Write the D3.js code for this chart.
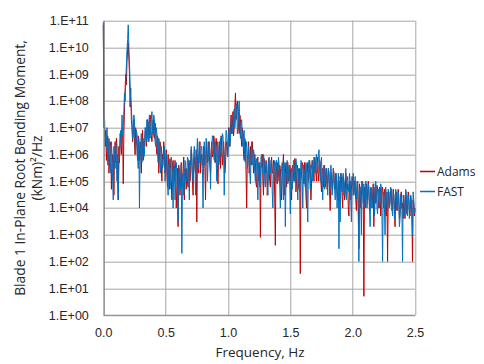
<!DOCTYPE html>
<html>
<head>
<meta charset="utf-8">
<script src="https://cdn.jsdelivr.net/npm/d3@7"></script>
<style>
  body { margin: 0; background: #fff; }
  svg { display: block; font-family: "Open Sans", "Liberation Sans", sans-serif; }
  .axis text { fill: #262626; font-size: 12.5px; }
  .axis path { stroke: #888; }
  .grid line { stroke: #a6a6a6; stroke-width: 1; }
</style>
</head>
<body>
<div id="chart"></div>
<script>
// PSD of blade 1 in-plane root bending moment, 0.005 Hz steps from 0 to 2.5 Hz
var freqStep = 0.005;

var fastPsd = [
  9e10, 1e7, 2e7, 3e6, 5e6, 2e6, 1e7, 4e5, 8e5, 4e6, 3e6, 6e5, 2e5, 3e6, 1e6, 1e5, 2e4, 2e6, 6e5, 3e5,
  3e6, 6e5, 1e5, 1e6, 2e4, 5e5, 1e6, 3e6, 8e6, 2e6, 3e7, 5e6, 1e7, 4e7, 2e8, 1e8, 6e8, 2e9, 8e9, 2e10,
  7e10, 1e10, 3e9, 4e8, 1e8, 5e7, 2e7, 4e6, 5e6, 3e7, 2e7, 3e6, 1e6, 8e6, 6e6, 1e6, 3e5, 4e6, 1e4, 1e6,
  2e6, 6e6, 5e5, 2e6, 4e6, 8e5, 1e6, 1e7, 8e6, 3e6, 2e7, 5e6, 3e6, 1.5e7, 3e7, 4e6, 8e6, 2e7, 4e7, 6e6,
  1e7, 3e7, 2e7, 3e6, 2e6, 1e7, 6e6, 1e6, 5e5, 4e6, 3e6, 6e5, 2e5, 2e6, 1e6, 3e5, 4e5, 1.5e6, 2e6, 1e5,
  2e5, 1e6, 8e5, 1e5, 3e4, 4e5, 6e5, 5e4, 1e5, 8e5, 5e5, 1e5, 1e4, 3e5, 4e5, 2e4, 6e4, 5e5, 2e5, 4e4,
  3e3, 2e5, 3e5, 8e4, 5e4, 4e5, 2e2, 1e5, 2e5, 3e4, 6e4, 6e5, 5e5, 1e5, 1e5, 8e5, 7e5, 2e5, 2e4, 6e5,
  4e5, 2e6, 1e6, 2e5, 1e5, 1e6, 2e6, 5e5, 3e4, 8e5, 1e6, 4e6, 3e5, 1e6, 3e6, 5e5, 6e5, 2e6, 2e6, 3e5,
  1e4, 1e6, 3e6, 4e5, 8e5, 4e6, 2e6, 1e5, 4e5, 2e6, 3e6, 8e5, 5e4, 1e6, 2e6, 5e6, 4e6, 1e6, 6e5, 3e6,
  3e6, 8e5, 1e5, 3e6, 2e6, 4e5, 5e5, 2e6, 4e6, 8e5, 1e6, 6e6, 5e6, 1e6, 3e4, 1e6, 2e6, 8e6, 6e6, 1e6,
  8e5, 5e6, 1e7, 2e6, 4e6, 1.5e7, 3e7, 6e6, 8e6, 3e7, 5e7, 1e7, 2e7, 5e7, 8e7, 6e6, 1e7, 4e7, 1e8, 1e7,
  4e6, 1.5e7, 2e7, 3e6, 2e6, 6e6, 8e6, 6e5, 5e5, 2e6, 3e6, 3e5, 4e5, 2e6, 1e6, 2e5, 8e4, 1e6, 3e6, 5e5,
  4e5, 1.5e6, 1e6, 2e5, 1e5, 5e5, 7e5, 1e5, 2e4, 4e5, 5e5, 6e4, 1e5, 8e5, 1e6, 3e5, 2e5, 1e6, 6e5, 1e5,
  6e4, 5e5, 4e5, 1e5, 3e4, 3e5, 8e5, 2e5, 2e5, 6e5, 5e5, 4e4, 1e4, 2e5, 3e5, 6e5, 1e5, 3e5, 6e5, 1e5,
  2e5, 8e5, 4e5, 6e4, 1e4, 2e5, 3e5, 5e5, 8e4, 2e4, 5e5, 2e5, 2e3, 1e5, 3e5, 6e5, 8e4, 2e5, 4e5, 1e5,
  6e3, 2e5, 3e5, 5e4, 1e5, 6e5, 5e5, 1e5, 2e5, 7e5, 4e5, 8e4, 2e4, 3e5, 2e5, 4e4, 1e5, 6e5, 5e5, 1e5,
  1e4, 4e5, 3e5, 1e5, 6e4, 5e5, 4e5, 2e4, 3e3, 3e5, 6e5, 2e5, 5e4, 4e5, 3e5, 6e5, 1e5, 2e5, 8e5, 3e5,
  2e5, 6e5, 1e6, 2e5, 3e5, 1e6, 1.5e6, 4e5, 1e5, 5e5, 8e5, 1e5, 2e4, 3e5, 4e5, 5e4, 8e4, 3e5, 3e5, 1e5,
  3e4, 3e5, 2e5, 5e4, 6e4, 4e5, 2e5, 3e4, 8e4, 3e5, 1.5e5, 6e4, 2e4, 2e5, 1.5e5, 1e4, 4e4, 2e5, 3e2, 1e5,
  3e3, 2e5, 1e5, 4e4, 1.5e5, 2e5, 3e4, 8e4, 1e5, 3e5, 2e4, 1e5, 1.5e5, 6e4, 4e4, 2e5, 1e5, 2e4, 3e3, 1e5,
  8e4, 2e5, 3e4, 6e4, 1.5e5, 4e4, 2e4, 1e5, 8e4, 5e3, 1e2, 5e4, 6e4, 2e4, 1e3, 1e5, 5e4, 1.5e4, 8e4, 3e4,
  1e4, 1e5, 6e4, 1e4, 2e4, 8e4, 5e4, 1e4, 2e3, 6e4, 5e4, 2e4, 1e4, 6e4, 8e4, 5e3, 2e4, 1e5, 4e4, 1e4,
  6e3, 4e4, 5e4, 1e4, 1.5e4, 8e4, 6e4, 5e3, 1e2, 3e4, 4e4, 1e4, 1e3, 6e4, 3e4, 1e4, 8e3, 5e4, 4e4, 1e4,
  1.5e4, 6e4, 5e4, 1e4, 5e3, 4e4, 3e4, 4e3, 1.5e4, 5e4, 4e4, 1e4, 8e3, 4e4, 2e4, 2e3, 4e3, 3e4, 3e4, 8e3,
  1e2, 3e4, 2e4, 5e3, 8e3, 5e4, 4e4, 6e3, 5e3, 3e4, 2e4, 4e3, 8e3, 3e4, 1.5e4, 6e3, 1e3, 4e4, 2e4, 6e3,
  8e3
];

var adamsPsd = [
  7e10, 3e7, 1e7, 2e6, 8e6, 6e5, 2e6, 5e6, 3e6, 2e5, 5e5, 3e6, 2e6, 5e4, 3e5, 1e6, 8e5, 3e4, 1e6, 3e6,
  5e5, 4e6, 2e6, 1e5, 2e4, 2e6, 5e5, 6e6, 4e6, 1e6, 8e6, 1e7, 8e4, 6e6, 5e7, 3e8, 1e9, 4e8, 3e9, 8e9,
  1.5e10, 4e9, 1e9, 6e7, 3e8, 2e7, 1e7, 3e6, 8e6, 2e7, 3e6, 1e6, 1e7, 4e6, 2e6, 6e5, 5e6, 2e6, 6e5, 3e6,
  1e6, 2e5, 3e6, 8e6, 6e5, 3e6, 2e6, 6e6, 1e7, 2e6, 5e6, 2e7, 1.5e7, 3e6, 6e6, 3e7, 2e7, 5e6, 3e6, 1e7,
  2e7, 5e6, 4e6, 1.5e7, 8e6, 2e6, 1e6, 5e6, 3e6, 2e5, 8e5, 3e6, 2e6, 4e5, 1e5, 1e6, 7e5, 3e6, 1e6, 2e5,
  5e5, 1.5e6, 2e5, 6e4, 1e6, 3e5, 5e4, 7e5, 3e5, 1e5, 2e4, 4e5, 6e5, 2e5, 1e5, 6e5, 3e5, 1e4, 4e4, 3e5,
  2e3, 4e5, 2e5, 3e4, 1e5, 5e5, 6e4, 1e5, 3e5, 8e5, 2e4, 3e5, 2e5, 5e4, 3e5, 1e5, 6e4, 6e5, 5e5, 1e5,
  2e5, 1.5e6, 6e5, 1e5, 3e4, 5e5, 8e5, 3e5, 2e5, 1.5e6, 3e3, 6e5, 1e6, 2e5, 1e6, 3e6, 2e5, 6e5, 1e6, 4e5,
  4e5, 2e6, 1e6, 3e5, 2e4, 1e6, 3e6, 5e5, 6e5, 3e6, 1e6, 4e5, 2e5, 1.5e6, 3e6, 8e5, 1e6, 5e6, 4e6, 5e5,
  5e5, 4e6, 2e6, 3e5, 8e4, 1e6, 3e6, 1e6, 3e5, 5e6, 2e6, 4e5, 8e5, 3e6, 1e6, 2e5, 4e5, 2e6, 3e6, 1e6,
  2e6, 1e7, 5e6, 2e6, 1e7, 3e7, 6e6, 1e7, 4e7, 5e6, 1e7, 6e7, 2e8, 2e7, 3e7, 1e8, 5e7, 1e7, 6e6, 3e7,
  2e7, 5e6, 2e6, 1e7, 5e6, 1e6, 6e5, 4e6, 3e6, 2e5, 1e4, 8e5, 1e6, 3e6, 2e5, 6e5, 2e6, 4e5, 6e5, 3e6,
  1e6, 2e5, 3e5, 1e6, 5e5, 8e4, 6e4, 6e5, 8e5, 1e5, 2e5, 5e5, 8e2, 3e5, 4e5, 1e6, 1e5, 3e4, 7e5, 2e5,
  2e5, 6e5, 5e5, 3e4, 1e5, 7e5, 3e5, 1e5, 6e4, 4e5, 8e5, 2e5, 2e5, 6e5, 4e5, 2e4, 4e2, 5e5, 3e5, 8e4,
  5e5, 2e5, 1e5, 4e5, 3e5, 6e4, 2e4, 3e5, 4e5, 1e6, 1e5, 3e4, 2e5, 5e5, 6e4, 3e5, 5e5, 1e5, 1e5, 4e5,
  3e5, 6e4, 2e4, 3e5, 4e5, 2e5, 1e5, 7e5, 6e5, 4e4, 1e5, 4e5, 3e5, 8e4, 5e4, 3e5, 3.5e1, 1e5, 2e5, 5e5,
  4e5, 1e5, 8e4, 5e5, 3e5, 3e4, 1e4, 2e5, 5e5, 1e5, 2e5, 6e5, 3e5, 2e4, 8e4, 4e5, 6e5, 2e5, 1e5, 8e5,
  6e5, 2e5, 1e5, 5e5, 8e5, 1e5, 2e5, 6e5, 5e5, 1e5, 4e4, 3e5, 3e5, 6e4, 2e5, 4e5, 6e4, 1e5, 3e5, 5e4,
  1e5, 3e5, 2e5, 4e4, 8e3, 1e5, 2e5, 6e4, 5e4, 3e5, 2e5, 5e4, 6e4, 2e5, 1e5, 3e4, 2e4, 1e5, 1.5e5, 4e4,
  5e4, 2e5, 1.5e5, 3e4, 1e4, 1.5e5, 1e5, 2e4, 3e4, 2e5, 1e5, 5e4, 8e4, 1e4, 5e3, 8e4, 1e5, 2e4, 5e4, 1.5e5,
  1e5, 3e4, 4e4, 1e5, 6e4, 2e4, 8e3, 6e4, 1e5, 2e4, 3e2, 8e4, 5e4, 1e4, 3e4, 1e5, 8e4, 2e4, 5e0, 6e4,
  4e4, 1e4, 8e4, 5e4, 2e4, 1e5, 6e4, 8e3, 1e4, 6e4, 5e4, 1e4, 3e4, 8e4, 2e3, 3e4, 6e4, 1.5e4, 2e4, 7e4,
  5e4, 2e4, 1e4, 6e4, 4e4, 5e3, 2e4, 5e4, 6e4, 1.5e4, 1e4, 5e4, 3e4, 6e3, 5e3, 4e4, 1e2, 2e4, 4e4, 1e4,
  2e4, 4e4, 5e4, 8e3, 1e4, 5e4, 3e4, 1e4, 2e3, 3e4, 4e4, 8e3, 1.5e4, 5e4, 3e4, 4e3, 6e3, 3e4, 4e4, 1e4,
  1.5e4, 4e3, 3e4, 1e4, 4e3, 3e4, 2e4, 6e3, 1e4, 4e4, 3e4, 8e3, 5e3, 3e4, 2e4, 6e3, 1e2, 2e4, 1.5e4, 5e3,
  1e4
];

var xTicks = [0, 0.5, 1.0, 1.5, 2.0, 2.5];
var xTickLabels = ["0.0", "0.5", "1.0", "1.5", "2.0", "2.5"];
var yTicks = [1e0, 1e1, 1e2, 1e3, 1e4, 1e5, 1e6, 1e7, 1e8, 1e9, 1e10, 1e11];
var yTickLabels = ["1.E+00", "1.E+01", "1.E+02", "1.E+03", "1.E+04", "1.E+05",
                   "1.E+06", "1.E+07", "1.E+08", "1.E+09", "1.E+10", "1.E+11"];

var seriesNames = ["Adams", "FAST"];
var seriesColors = ["#c00000", "#0070c0"];

(function () {
    "use strict";

    var W = 484, H = 364;
    var margin = { top: 20.7, right: 69, bottom: 49, left: 103.3 };
    var width = W - margin.left - margin.right;
    var height = H - margin.top - margin.bottom;

    var svg = d3.select("#chart").append("svg")
        .attr("width", W)
        .attr("height", H);

    var g = svg.append("g")
        .attr("transform", "translate(" + margin.left + "," + margin.top + ")");

    var x = d3.scaleLinear().domain([0, 2.5]).range([0, width]);
    var y = d3.scaleLog().domain([1, 1e11]).range([height, 0]);

    // Grid
    var grid = g.append("g").attr("class", "grid");
    grid.selectAll("line.h").data(yTicks).enter().append("line")
        .attr("class", "h")
        .attr("x1", 0).attr("x2", width)
        .attr("y1", function (d) { return Math.round(y(d)) + 0.5; })
        .attr("y2", function (d) { return Math.round(y(d)) + 0.5; });
    grid.selectAll("line.v").data(xTicks).enter().append("line")
        .attr("class", "v")
        .attr("y1", 0).attr("y2", height)
        .attr("x1", function (d) { return Math.round(x(d)) + 0.5; })
        .attr("x2", function (d) { return Math.round(x(d)) + 0.5; });

    // Series: Adams first, FAST drawn on top
    var series = [adamsPsd, fastPsd];
    var line = d3.line()
        .x(function (d, i) { return x(i * freqStep); })
        .y(function (d) { return y(d); });

    series.forEach(function (s, k) {
        g.append("path")
            .datum(s)
            .attr("fill", "none")
            .attr("stroke", seriesColors[k])
            .attr("stroke-width", 1)
            .attr("d", line);
    });

    // Axes
    g.append("g").attr("class", "axis")
        .attr("transform", "translate(0," + (Math.round(height) + 0.5) + ")")
        .call(d3.axisBottom(x).tickValues(xTicks).tickSize(0).tickPadding(13)
            .tickFormat(function (d, i) { return xTickLabels[i]; }));

    g.append("g").attr("class", "axis")
        .attr("transform", "translate(0.5,0)")
        .call(d3.axisLeft(y).tickValues(yTicks).tickSize(0).tickPadding(15)
            .tickFormat(function (d, i) { return yTickLabels[i]; }));

    // Axis titles
    svg.append("text")
        .attr("x", 260)
        .attr("y", 357)
        .attr("text-anchor", "middle")
        .attr("fill", "#262626")
        .attr("font-size", "13.5px")
        .text("Frequency, Hz");

    var yt = svg.append("text")
        .attr("transform", "translate(25,168) rotate(-90)")
        .attr("text-anchor", "middle")
        .attr("fill", "#262626")
        .attr("font-size", "13.8px");
    yt.append("tspan").attr("x", 0).attr("dy", 0).text("Blade 1 In-Plane Root Bending Moment,");
    yt.append("tspan").attr("x", 0).attr("dy", 17).text("(kNm)²/Hz");

    // Legend
    var legend = svg.append("g").attr("transform", "translate(420,171)");
    seriesNames.forEach(function (name, k) {
        var row = legend.append("g").attr("transform", "translate(0," + (k * 20) + ")");
        row.append("line")
            .attr("x1", 0).attr("x2", 15)
            .attr("y1", 0.5).attr("y2", 0.5)
            .attr("stroke", seriesColors[k])
            .attr("stroke-width", 1.5);
        row.append("text")
            .attr("x", 17).attr("y", 4.5)
            .attr("fill", "#262626")
            .attr("font-size", "12px")
            .text(name);
    });
})();
</script>
</body>
</html>
